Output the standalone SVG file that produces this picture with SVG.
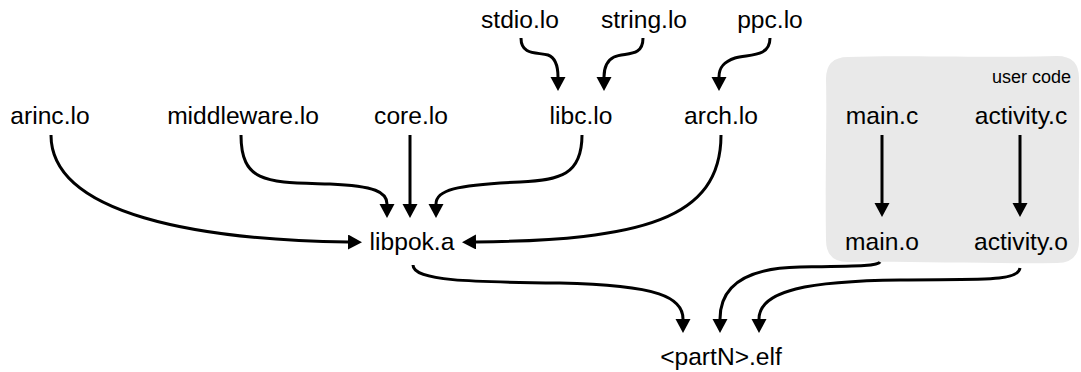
<svg xmlns="http://www.w3.org/2000/svg" width="1081" height="372" viewBox="0 0 1081 372">
  <style>
    .lbl { font-family: "Liberation Sans", Arial, sans-serif; font-size: 24.6px; fill: #000; text-anchor: middle; }
    .grp { font-family: "Liberation Sans", Arial, sans-serif; font-size: 18px; fill: #000; text-anchor: end; }
    .edge { fill: none; stroke: #000; stroke-width: 3; stroke-linecap: butt; marker-end: url(#head); }
  </style>
  <defs>
    <marker id="head" markerUnits="userSpaceOnUse" markerWidth="16" markerHeight="16" refX="0" refY="7.5" orient="auto">
      <path d="M0,0 L14,7.5 L0,15 Z" fill="#000"/>
    </marker>
  </defs>

  <rect width="1081" height="372" fill="#fff"/>

  <!-- user code cluster -->
  <g id="cluster-user-code">
    <path d="M848,57 C900,55 980,58 1057,56 Q1079,56 1079,78 C1080,130 1078,190 1079,241 Q1079,263 1057,263 C990,264 910,261 848,262 Q826,262 826,240 C825,180 827,120 826,79 Q826,57 848,57 Z" fill="#e9e9e9"/>
    <text class="grp" x="1071" y="83">user code</text>
  </g>

  <!-- nodes -->
  <g id="n-stdio"><text class="lbl" x="520" y="28">stdio.lo</text></g>
  <g id="n-string"><text class="lbl" x="644" y="28">string.lo</text></g>
  <g id="n-ppc"><text class="lbl" x="770" y="28">ppc.lo</text></g>
  <g id="n-arinc"><text class="lbl" x="50" y="124">arinc.lo</text></g>
  <g id="n-middleware"><text class="lbl" x="243" y="124">middleware.lo</text></g>
  <g id="n-core"><text class="lbl" x="411" y="124">core.lo</text></g>
  <g id="n-libc"><text class="lbl" x="581" y="124">libc.lo</text></g>
  <g id="n-arch"><text class="lbl" x="721" y="124">arch.lo</text></g>
  <g id="n-main-c"><text class="lbl" x="882" y="124">main.c</text></g>
  <g id="n-activity-c"><text class="lbl" x="1021" y="124">activity.c</text></g>
  <g id="n-libpok"><text class="lbl" x="412" y="250">libpok.a</text></g>
  <g id="n-main-o"><text class="lbl" x="882" y="250">main.o</text></g>
  <g id="n-activity-o"><text class="lbl" x="1021" y="250">activity.o</text></g>
  <g id="n-elf"><text class="lbl" x="721" y="365">&lt;partN&gt;.elf</text></g>

  <!-- connectors -->
  <g id="edges">
    <path class="edge" d="M521,38 C521,56 538,52 548,55 C556,58 558,66 558,77"/>
    <path class="edge" d="M643,38 C643,58 625,52 614,57 C606,61 604,68 604,77"/>
    <path class="edge" d="M770,38 C770,58 748,54 735,58 C723,62 719,68 719,77"/>
    <path class="edge" d="M51,135 C51,215 200,240 348,242"/>
    <path class="edge" d="M241,135 C241,185 270,182 330,184 C375,186 387,192 387,204"/>
    <path class="edge" d="M410,135 L410,204"/>
    <path class="edge" d="M582,135 C582,175 560,180 520,182 C455,185 436,190 436,204"/>
    <path class="edge" d="M721,135 C721,220 640,240 476,242"/>
    <path class="edge" d="M882,135 L882,203"/>
    <path class="edge" d="M1020,135 L1020,203"/>
    <path class="edge" d="M413,265 C413,281 470,282 560,283 C660,285 683,298 683,319"/>
    <path class="edge" d="M880,262 C878,266 860,266 800,267 C740,268 720,290 720,319"/>
    <path class="edge" d="M1020,268 C1018,282 980,279 900,280 C810,281 759,290 759,319"/>
  </g>
</svg>
